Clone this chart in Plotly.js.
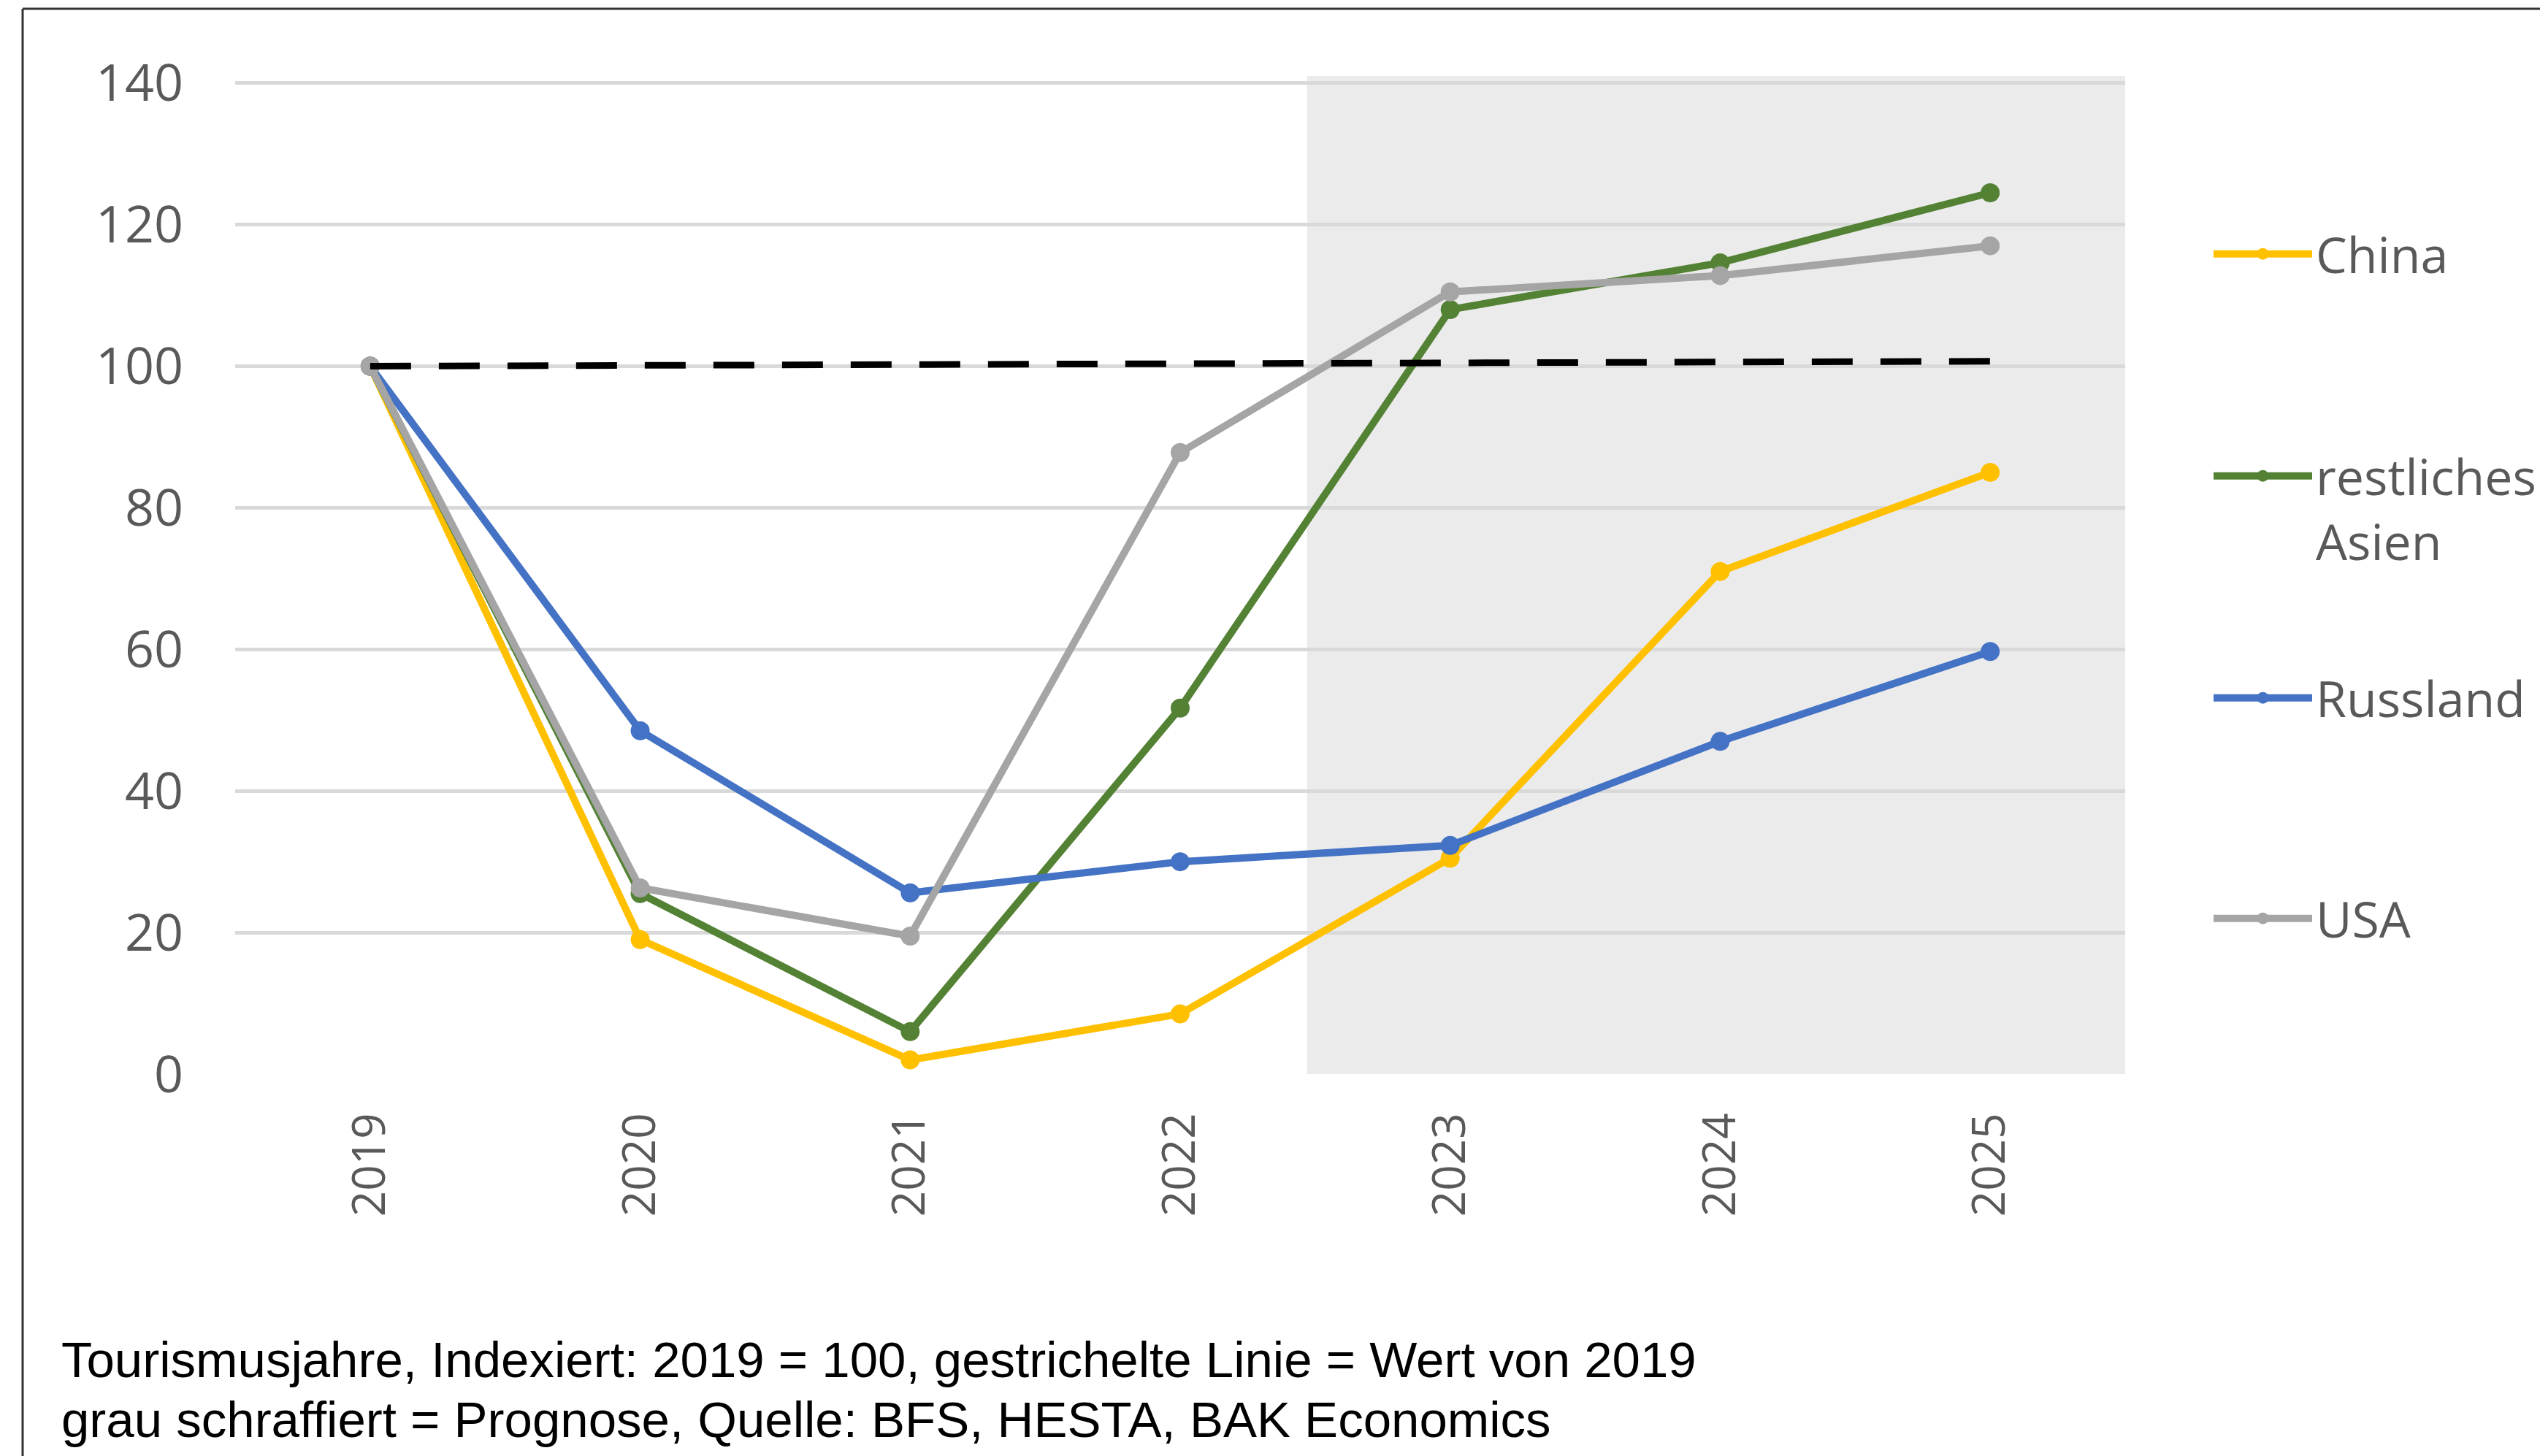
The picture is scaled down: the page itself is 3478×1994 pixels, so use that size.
<!DOCTYPE html>
<html><head><meta charset="utf-8">
<script src="https://cdn.plot.ly/plotly-3.0.1.min.js"></script>
<style>html,body{margin:0;padding:0;background:#fff;} #chart{width:3478px;height:1994px;}</style>
</head><body><div id="chart"></div>
<script>
// ---- data ----
const years = ['2019','2020','2021','2022','2023','2024','2025'];
const china = [100, 19, 2, 8.5, 30.5, 71, 85];
const restAsien = [100, 25.5, 6, 51.7, 108, 114.6, 124.5];
const russland = [100, 48.5, 25.6, 30, 32.3, 47, 59.7];
const usa = [100, 26.3, 19.5, 87.8, 110.5, 112.8, 117];
const baselineYears = ['2019', '2025'];
const baseline = [100, 100.7];
const yTicks = [0, 20, 40, 60, 80, 100, 120, 140];
const seriesNames = ['China', 'restliches<br>Asien', 'Russland', 'USA'];
const footnote1 = 'Tourismusjahre, Indexiert: 2019 = 100, gestrichelte Linie = Wert von 2019';
const footnote2 = 'grau schraffiert = Prognose, Quelle: BFS, HESTA, BAK Economics';

// ---- styling ----
const colors = ['#FFC000', '#548235', '#4472C4', '#A5A5A5'];
const tickFontY = {family: 'Open Sans, sans-serif', size: 70, color: '#595959'};
const tickFontX = {family: 'Open Sans, sans-serif', size: 62, color: '#595959'};
const W = 3478, H = 1994;
const L = 322, R = 2910, T = 104, B = 1471;
const px2x = p => (p - L) / (R - L);
const px2y = p => (B - p) / (B - T);

const values = [china, restAsien, russland, usa];
const legendIds = ['legend', 'legend2', 'legend3', 'legend4'];
const traces = values.map((v, i) => ({
  type: 'scatter', mode: 'lines+markers', x: years, y: v, name: seriesNames[i],
  line: {color: colors[i], width: 10},
  marker: {color: colors[i], size: 26},
  legend: legendIds[i], hoverinfo: 'x+y+name'
}));
traces.push({
  type: 'scatter', mode: 'lines', x: baselineYears, y: baseline, showlegend: false,
  line: {color: '#000000', width: 9, dash: '56px,38px'}, hoverinfo: 'skip'
});

const legendY = [348, 696, 956, 1258];
const legendBase = {
  xref: 'container', yref: 'container',
  xanchor: 'left', yanchor: 'middle', x: 3026 / W,
  font: {family: 'Open Sans, sans-serif', size: 68, color: '#595959'},
  bgcolor: 'rgba(0,0,0,0)', borderwidth: 0, itemwidth: 135, valign: 'top'
};

const layout = {
  width: W, height: H,
  margin: {l: L, r: W - R, t: T, b: H - B, pad: 0, autoexpand: false},
  paper_bgcolor: '#ffffff', plot_bgcolor: '#ffffff',
  xaxis: {
    type: 'category', range: [-0.5, 6.5], showgrid: false, zeroline: false,
    showline: false, ticks: '', tickangle: -90, tickfont: tickFontX,
    ticklabelstandoff: 40, fixedrange: true
  },
  yaxis: {
    range: [0, 141], tickvals: yTicks, showgrid: true, gridcolor: '#D9D9D9', gridwidth: 5,
    zeroline: false, showline: false, ticks: '', tickfont: tickFontY,
    ticklabelstandoff: 70, fixedrange: true
  },
  shapes: [
    {type: 'rect', xref: 'x', yref: 'y', x0: 3.47, x1: 6.5, y0: 0, y1: 141,
     fillcolor: '#EBEBEB', line: {width: 0}, layer: 'below'},
    {type: 'line', xref: 'paper', yref: 'paper', x0: px2x(31), x1: px2x(31),
     y0: px2y(H + 20), y1: px2y(12), line: {color: '#333333', width: 3}},
    {type: 'line', xref: 'paper', yref: 'paper', x0: px2x(31), x1: px2x(W + 20),
     y0: px2y(12), y1: px2y(12), line: {color: '#333333', width: 3}}
  ],
  annotations: [
    {text: footnote1, xref: 'paper', yref: 'paper', x: px2x(82), y: px2y(1862),
     xanchor: 'left', yanchor: 'middle', showarrow: false,
     font: {family: 'Arial, Liberation Sans, sans-serif', size: 69, color: '#000000'}},
    {text: footnote2, xref: 'paper', yref: 'paper', x: px2x(82), y: px2y(1944),
     xanchor: 'left', yanchor: 'middle', showarrow: false,
     font: {family: 'Arial, Liberation Sans, sans-serif', size: 69, color: '#000000'}}
  ],
  showlegend: true
};
legendIds.forEach((id, i) => {
  layout[id] = Object.assign({}, legendBase, {y: 1 - legendY[i] / H});
});

Plotly.newPlot('chart', traces, layout, {displayModeBar: false, staticPlot: true});
</script>
</body></html>
